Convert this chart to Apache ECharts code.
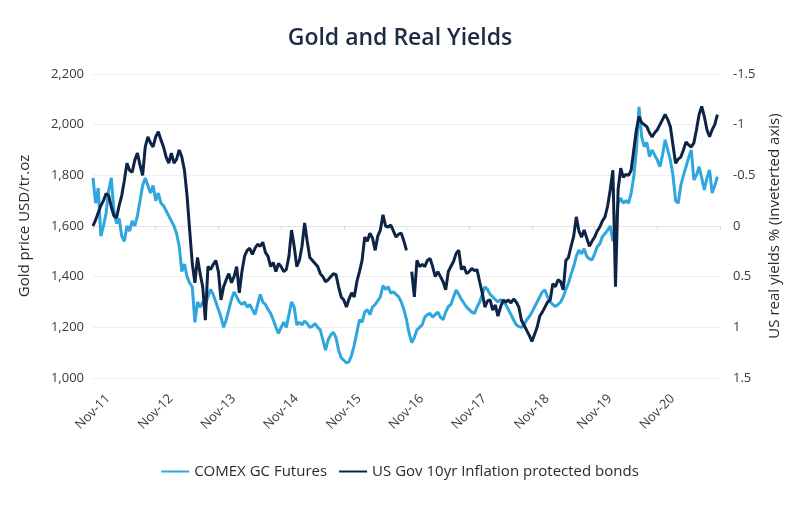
<!DOCTYPE html>
<html>
<head>
<meta charset="utf-8">
<script src="https://cdn.jsdelivr.net/npm/echarts@6/dist/echarts.min.js"></script>
<style>
  html, body { margin: 0; padding: 0; background: #ffffff; }
  #chart { width: 800px; height: 511px; }
</style>
</head>
<body>
<div id="chart"></div>
<script>
// Half-monthly samples starting Nov 2011 (index i -> i/2 months after Nov 2011)
const tickLabels = ['Nov-11','Nov-12','Nov-13','Nov-14','Nov-15','Nov-16','Nov-17','Nov-18','Nov-19','Nov-20'];

// COMEX GC Futures, USD/tr.oz
const gold = [
 1790,1690,1750,1560,1600,1650,1740,1790,1660,1610,
 1630,1560,1540,1600,1580,1620,1600,1640,1700,1760,
 1790,1760,1730,1760,1700,1730,1690,1680,1660,1640,
 1620,1600,1570,1520,1420,1450,1400,1375,1360,1220,
 1300,1280,1300,1290,1320,1350,1330,1300,1270,1240,
 1200,1230,1270,1310,1340,1320,1300,1290,1300,1280,
 1290,1270,1250,1290,1330,1300,1290,1270,1255,1230,
 1200,1176,1200,1220,1200,1250,1300,1280,1210,1220,
 1210,1225,1215,1200,1205,1215,1200,1190,1150,1110,
 1150,1170,1180,1160,1110,1080,1070,1060,1065,1090,
 1130,1180,1230,1220,1260,1270,1250,1280,1290,1305,
 1320,1365,1350,1360,1335,1340,1330,1320,1300,1270,
 1230,1176,1140,1160,1190,1200,1210,1240,1250,1255,
 1240,1250,1260,1240,1230,1260,1282,1290,1320,1347,
 1330,1310,1295,1280,1270,1260,1255,1280,1300,1330,
 1360,1350,1330,1320,1310,1300,1310,1300,1290,1270,
 1250,1229,1210,1203,1200,1210,1230,1242,1260,1280,
 1300,1320,1340,1347,1320,1300,1290,1282,1290,1300,
 1320,1350,1374,1410,1440,1480,1505,1490,1510,1480,
 1470,1466,1490,1518,1530,1558,1570,1584,1600,1540,
 1600,1690,1710,1690,1700,1690,1730,1795,1900,2070,
 1953,1913,1930,1874,1900,1880,1860,1834,1880,1940,
 1900,1860,1800,1700,1690,1760,1800,1834,1870,1900,
 1782,1800,1834,1790,1742,1790,1821,1730,1760,1795
];

// US Gov 10yr inflation protected bonds, real yield %
const realYield = [
 0.00,-0.06,-0.13,-0.20,-0.25,-0.32,-0.30,-0.19,-0.10,-0.08,
 -0.20,-0.30,-0.45,-0.62,-0.55,-0.53,-0.65,-0.72,-0.60,-0.50,
 -0.78,-0.88,-0.82,-0.78,-0.88,-0.93,-0.85,-0.78,-0.68,-0.62,
 -0.72,-0.62,-0.66,-0.75,-0.68,-0.55,-0.30,0.04,0.37,0.56,
 0.31,0.47,0.60,0.93,0.40,0.43,0.38,0.34,0.45,0.73,
 0.60,0.53,0.47,0.56,0.50,0.40,0.66,0.45,0.30,0.24,
 0.22,0.28,0.22,0.18,0.20,0.16,0.26,0.30,0.40,0.36,
 0.45,0.37,0.40,0.45,0.43,0.30,0.04,0.20,0.40,0.34,
 0.20,-0.03,0.15,0.31,0.34,0.37,0.40,0.47,0.50,0.55,
 0.53,0.50,0.47,0.48,0.60,0.70,0.73,0.80,0.72,0.66,
 0.70,0.55,0.45,0.34,0.11,0.15,0.07,0.12,0.24,0.10,
 0.04,-0.11,0.00,0.01,-0.01,0.05,0.11,0.08,0.07,0.15,
 0.24,null,0.45,0.70,0.34,0.40,0.38,0.40,0.34,0.32,
 0.40,0.50,0.45,0.50,0.55,0.63,0.45,0.40,0.35,0.27,
 0.24,0.43,0.40,0.47,0.45,0.42,0.44,0.43,0.55,0.66,
 0.80,0.74,0.73,0.83,0.78,0.89,0.80,0.73,0.75,0.73,
 0.76,0.72,0.75,0.80,0.93,0.98,1.03,1.08,1.14,1.07,
 1.00,0.89,0.85,0.80,0.75,0.73,0.57,0.60,0.53,0.55,
 0.63,0.34,0.31,0.20,0.10,-0.09,0.05,0.11,0.04,0.12,
 0.20,0.15,0.11,0.05,0.01,-0.05,-0.09,-0.20,-0.36,-0.55,
 0.60,-0.36,-0.57,-0.48,-0.51,-0.50,-0.55,-0.75,-0.95,-1.08,
 -1.02,-1.00,-0.98,-0.92,-0.88,-0.92,-0.95,-1.00,-1.05,-1.10,
 -1.05,-0.98,-0.80,-0.62,-0.66,-0.68,-0.75,-0.83,-0.80,-0.78,
 -0.82,-0.95,-1.10,-1.18,-1.08,-0.95,-0.88,-0.95,-1.00,-1.10
];

const seriesNames = ['COMEX GC Futures', 'US Gov 10yr Inflation protected bonds'];

const toPairs = arr => arr.map((v, i) => [i / 2, v]);

const FONT = 'Open Sans';
const chart = echarts.init(document.getElementById('chart'));
chart.setOption({
  backgroundColor: '#ffffff',
  animation: false,
  textStyle: { fontFamily: FONT },
  title: {
    text: 'Gold and Real Yields',
    left: 'center',
    top: 22,
    textStyle: { fontFamily: FONT, fontSize: 23, fontWeight: 600, color: '#1b2a45' }
  },
  legend: {
    bottom: 27,
    left: 'center',
    icon: 'rect',
    itemWidth: 28,
    itemHeight: 2,
    itemGap: 12,
    textStyle: { fontFamily: FONT, fontSize: 15, color: '#2b2b2b' },
    data: seriesNames
  },
  grid: { left: 93, right: 80, top: 74, bottom: 133 },
  xAxis: {
    type: 'value',
    min: 0,
    max: 120,
    interval: 12,
    axisLine: { show: true, lineStyle: { color: '#e4e4e4' } },
    axisTick: { show: true, length: 4, lineStyle: { color: '#dcdcdc' } },
    splitLine: { show: false },
    axisLabel: {
      rotate: 45,
      align: 'center',
      verticalAlign: 'middle',
      margin: 34,
      fontSize: 13,
      color: '#3a3a3a',
      formatter: v => tickLabels[Math.round(v / 12)] || ''
    }
  },
  yAxis: [
    {
      type: 'value',
      min: 1000,
      max: 2200,
      interval: 200,
      name: 'Gold price USD/tr.oz',
      nameLocation: 'middle',
      nameGap: 61,
      nameTextStyle: { fontFamily: FONT, fontSize: 15, color: '#2b2b2b' },
      axisLine: { show: false },
      axisTick: { show: false },
      splitLine: { lineStyle: { color: '#eeeeee' } },
      axisLabel: {
        margin: 9,
        fontSize: 13,
        color: '#3a3a3a',
        formatter: v => v.toLocaleString('en-US')
      }
    },
    {
      type: 'value',
      min: -1.5,
      max: 1.5,
      interval: 0.5,
      inverse: true,
      name: 'US real yields % (inveterted axis)',
      nameLocation: 'middle',
      nameGap: 47,
      nameTextStyle: { fontFamily: FONT, fontSize: 15, color: '#2b2b2b' },
      axisLine: { show: false },
      axisTick: { show: false },
      splitLine: { show: false },
      axisLabel: { margin: 13, fontSize: 13, color: '#3a3a3a' }
    }
  ],
  series: [
    {
      name: seriesNames[0],
      type: 'line',
      yAxisIndex: 0,
      data: toPairs(gold),
      showSymbol: false,
      color: '#2fa6de',
      lineStyle: { width: 3, color: '#2fa6de' }
    },
    {
      name: seriesNames[1],
      type: 'line',
      yAxisIndex: 1,
      data: toPairs(realYield),
      connectNulls: false,
      showSymbol: false,
      color: '#0e2446',
      lineStyle: { width: 3, color: '#0e2446' }
    }
  ]
});
</script>
</body>
</html>
